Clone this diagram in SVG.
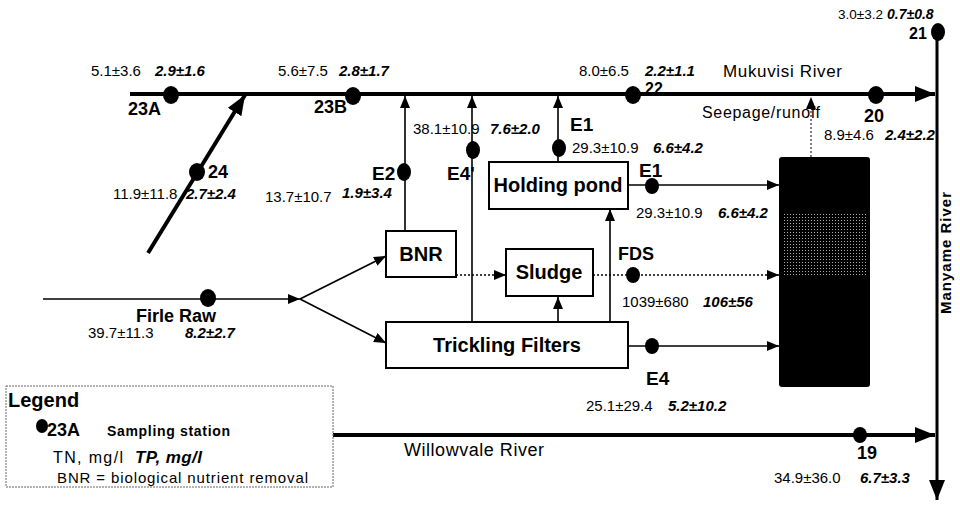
<svg xmlns="http://www.w3.org/2000/svg" width="960" height="506" viewBox="0 0 960 506">
<defs>
<style>
text{font-family:"Liberation Sans",Arial,sans-serif;fill:#000}
.n{font-size:15px}
.b{font-size:15px;font-weight:bold;font-style:italic}
.lb{font-size:18px;font-weight:bold}
.e{font-size:19px;font-weight:bold}
.bx{font-size:20px;font-weight:bold;text-anchor:middle}
.rv{font-size:17px}
.box{fill:#fff;stroke:#000;stroke-width:2}
.thin{fill:none;stroke:#000;stroke-width:1.6}
.thick{fill:none;stroke:#000;stroke-width:4}
.dot{stroke-dasharray:2 2}
.st{fill:#000}
</style>
<marker id="a" viewBox="0 0 12 10" refX="12" refY="5" markerWidth="12" markerHeight="10" markerUnits="userSpaceOnUse" orient="auto"><path d="M0,0L12,5L0,10z"/></marker>
<marker id="A" viewBox="0 0 20 16" refX="20" refY="8" markerWidth="20" markerHeight="16" markerUnits="userSpaceOnUse" orient="auto"><path d="M0,0L20,8L0,16z"/></marker>
<pattern id="spk" width="3" height="3" patternUnits="userSpaceOnUse"><rect width="3" height="3" fill="#000"/><rect x="1" y="1" width="1" height="1" fill="#aaa"/></pattern>
</defs>
<rect width="960" height="506" fill="#fff"/>

<g id="connectors">
<path class="thick" d="M130,94H935" marker-end="url(#A)"/>
<path class="thick" style="stroke-width:3" d="M937,32V500" marker-end="url(#A)"/>
<path class="thick" d="M333,435H935" marker-end="url(#A)"/>
<path class="thick" d="M148,253L245,95" marker-end="url(#A)"/>
<path class="thin" d="M405,231V96" marker-end="url(#a)"/>
<path class="thin" d="M472,322V96" marker-end="url(#a)"/>
<path class="thin" d="M558,162V96" marker-end="url(#a)"/>
<path class="thin" d="M43,299H300" marker-end="url(#a)"/>
<path class="thin" d="M300,299L386,256" marker-end="url(#a)"/>
<path class="thin" d="M300,299L386,343" marker-end="url(#a)"/>
<path class="thin dot" d="M456,275H506" marker-end="url(#a)"/>
<path class="thin" d="M558,322V297" marker-end="url(#a)"/>
<path class="thin" d="M610,322V209" marker-end="url(#a)"/>
<path class="thin" d="M628,185H779" marker-end="url(#a)"/>
<path class="thin dot" d="M593,275H779" marker-end="url(#a)"/>
<path class="thin" d="M628,346H779" marker-end="url(#a)"/>
<path class="thin dot" style="stroke-width:1" d="M811,157V97" marker-end="url(#a)"/>
</g>

<g id="mukuvisi-label"><text class="rv" x="723" y="77" textLength="119">Mukuvisi River</text></g>
<g id="seepage-label"><text x="702" y="118" textLength="118" style="font-size:16px">Seepage/runoff</text></g>
<g id="willowvale-label"><text x="404" y="456" textLength="140" style="font-size:18px">Willowvale River</text></g>
<g id="manyame-label"><text transform="translate(951,314) rotate(-90)" textLength="122" style="font-size:15px;font-weight:bold">Manyame River</text></g>

<g id="st23A"><ellipse class="st" cx="171" cy="95" rx="8" ry="9"/><text class="lb" x="128" y="115">23A</text><text class="n" x="91" y="76">5.1±3.6</text><text class="b" x="155" y="76">2.9±1.6</text></g>
<g id="st23B"><ellipse class="st" cx="353" cy="96" rx="8" ry="9"/><text class="lb" x="314" y="113">23B</text><text class="n" x="278" y="76">5.6±7.5</text><text class="b" x="339" y="76">2.8±1.7</text></g>
<g id="st22"><ellipse class="st" cx="633" cy="95" rx="8" ry="9"/><text class="lb" x="645" y="94" style="font-size:16px">22</text><text class="n" x="579" y="76">8.0±6.5</text><text class="b" x="645" y="76">2.2±1.1</text></g>
<g id="st20"><ellipse class="st" cx="876" cy="95" rx="8" ry="9"/><text class="lb" x="864" y="122">20</text><text class="n" x="824" y="140">8.9±4.6</text><text class="b" x="885" y="140">2.4±2.2</text></g>
<g id="st21"><ellipse class="st" cx="938" cy="32" rx="7" ry="9"/><text class="lb" x="909" y="39" style="font-size:16px">21</text><text class="n" x="838" y="19" style="font-size:13.5px">3.0±3.2</text><text class="b" x="887" y="19" style="font-size:14px">0.7±0.8</text></g>
<g id="st24"><ellipse class="st" cx="197" cy="172" rx="8" ry="9"/><text class="lb" x="208" y="178">24</text><text class="n" x="113" y="199">11.9±11.8</text><text class="b" x="186" y="199">2.7±2.4</text></g>
<g id="stE2"><ellipse class="st" cx="404" cy="172" rx="7" ry="9"/><text class="e" x="372" y="180">E2</text><text class="n" x="265" y="202">13.7±10.7</text><text class="b" x="342" y="198">1.9±3.4</text></g>
<g id="stE4p"><ellipse class="st" cx="473" cy="150" rx="7" ry="9"/><text class="e" x="447" y="180">E4'</text><text class="n" x="413" y="134">38.1±10.9</text><text class="b" x="490" y="134">7.6±2.0</text></g>
<g id="stE1a"><ellipse class="st" cx="559" cy="148" rx="7" ry="9"/><text class="e" x="570" y="131">E1</text><text class="n" x="572" y="153">29.3±10.9</text><text class="b" x="653" y="153">6.6±4.2</text></g>
<g id="stE1"><ellipse class="st" cx="652" cy="186" rx="7" ry="8"/><text class="e" x="639" y="177">E1</text><text class="n" x="636" y="218">29.3±10.9</text><text class="b" x="718" y="218">6.6±4.2</text></g>
<g id="stFDS"><ellipse class="st" cx="633" cy="275" rx="7" ry="8"/><text class="lb" x="618" y="260">FDS</text><text class="n" x="622" y="307">1039±680</text><text class="b" x="703" y="307">106±56</text></g>
<g id="stE4"><ellipse class="st" cx="652" cy="346" rx="7" ry="8"/><text class="e" x="646" y="385">E4</text><text class="n" x="586" y="411">25.1±29.4</text><text class="b" x="668" y="411">5.2±10.2</text></g>
<g id="stFirle"><ellipse class="st" cx="208" cy="298" rx="8" ry="9"/><text class="lb" x="136" y="322">Firle Raw</text><text class="n" x="88" y="338">39.7±11.3</text><text class="b" x="185" y="338">8.2±2.7</text></g>
<g id="st19"><ellipse class="st" cx="860" cy="435" rx="7" ry="8"/><text class="lb" x="857" y="459">19</text><text class="n" x="774" y="483">34.9±36.0</text><text class="b" x="860" y="483">6.7±3.3</text></g>

<g id="holding-pond"><rect class="box" x="489" y="162" width="139" height="47"/><text class="bx" x="558" y="192">Holding pond</text></g>
<g id="bnr"><rect class="box" x="386" y="231" width="70" height="46"/><text class="bx" x="421" y="261">BNR</text></g>
<g id="sludge"><rect class="box" x="506" y="249" width="87" height="47"/><text class="bx" x="549" y="279">Sludge</text></g>
<g id="trickling"><rect class="box" x="386" y="322" width="242" height="46"/><text class="bx" x="507" y="352">Trickling Filters</text></g>
<g id="wetland"><rect x="779" y="157" width="91" height="230" rx="3" fill="#000"/><rect x="782" y="214" width="84" height="62" fill="url(#spk)"/></g>

<g id="legend">
<rect x="6" y="386" width="327" height="101" fill="#fff" stroke="#666" stroke-width="1" stroke-dasharray="2 1"/>
<text x="8" y="407" style="font-size:20px;font-weight:bold">Legend</text>
<ellipse class="st" cx="42" cy="426" rx="6" ry="7"/>
<text x="47" y="436" style="font-size:18px;font-weight:bold">23A</text>
<text x="107" y="436" textLength="123" style="font-size:14px;font-weight:bold">Sampling station</text>
<text x="53" y="463" textLength="70" style="font-size:16px">TN, mg/l</text>
<text x="135" y="463" textLength="67" style="font-size:17px;font-weight:bold;font-style:italic">TP, mg/l</text>
<text x="57" y="483" textLength="251" style="font-size:15px">BNR = biological nutrient removal</text>
</g>
</svg>
